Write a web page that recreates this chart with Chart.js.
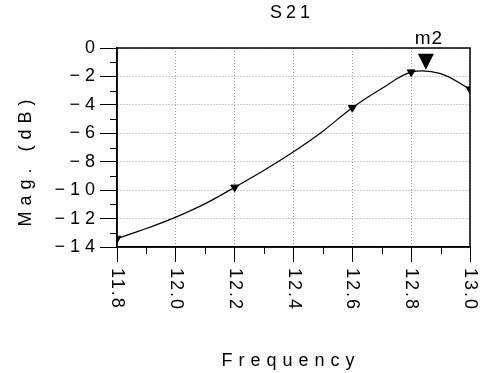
<!DOCTYPE html>
<html>
<head>
<meta charset="utf-8">
<script src="https://cdn.jsdelivr.net/npm/chart.js@4"></script>
<style>
  html, body { margin: 0; padding: 0; background: #fff; }
  #wrap { width: 481px; height: 373px; }
</style>
</head>
<body>
<div id="wrap"><canvas id="c" width="481" height="373"></canvas></div>
<script>
// Data
const freqs = [11.8, 11.9, 12.0, 12.1, 12.2, 12.3, 12.4, 12.5, 12.6, 12.7, 12.8, 12.9, 13.0];
const mags  = [-13.4, -12.7, -11.9, -10.95, -9.8, -8.6, -7.3, -5.85, -4.2, -2.85, -1.7, -1.8, -2.9];
const markerFreqs = [11.8, 12.2, 12.6, 12.8, 13.0];
const markerMags  = [-13.4, -9.8, -4.2, -1.7, -2.9];
const m2Freq = 12.85;
const m2Mag = -1.6;
const m2Label = "m2";
const xTickLabels = ["11.8", "12.0", "12.2", "12.4", "12.6", "12.8", "13.0"];
const xTickValues = [11.8, 12.0, 12.2, 12.4, 12.6, 12.8, 13.0];
const titleText = "S21";
const xTitle = "Frequency";
const yTitle = "Mag. (dB)";

const FONT = "'Liberation Sans', Arial, sans-serif";

const decor = {
  id: 'decor',
  beforeDraw(chart) {
    chart.ctx.letterSpacing = '5px';
  },
  afterDraw(chart) {
    const ctx = chart.ctx;
    const a = chart.chartArea;
    const xs = chart.scales.x, ys = chart.scales.y;
    ctx.save();
    ctx.strokeStyle = '#000';
    ctx.fillStyle = '#000';
    // frame
    ctx.lineWidth = 1.5;
    ctx.strokeRect(a.left, a.top, a.right - a.left, a.bottom - a.top);
    // minor ticks
    ctx.lineWidth = 1;
    ctx.beginPath();
    for (let v = -13; v < 0; v += 2) {
      const py = Math.round(ys.getPixelForValue(v)) + 0.5;
      ctx.moveTo(a.left - 7, py); ctx.lineTo(a.left, py);
    }
    for (let i = 0; i < xTickValues.length - 1; i++) {
      const v = (xTickValues[i] + xTickValues[i + 1]) / 2;
      const px = Math.round(xs.getPixelForValue(v)) + 0.5;
      ctx.moveTo(px, a.bottom); ctx.lineTo(px, a.bottom + 7);
    }
    ctx.stroke();
    // x tick labels rotated clockwise
    ctx.font = '18px ' + FONT;
    ctx.letterSpacing = '2px';
    ctx.textAlign = 'left';
    ctx.textBaseline = 'middle';
    xTickValues.forEach((v, i) => {
      const px = xs.getPixelForValue(v);
      ctx.save();
      ctx.translate(px, a.bottom + 21);
      ctx.rotate(Math.PI / 2);
      ctx.fillText(xTickLabels[i], 0, 0);
      ctx.restore();
    });
    // x title
    ctx.letterSpacing = '6px';
    ctx.textAlign = 'center';
    ctx.textBaseline = 'alphabetic';
    ctx.font = '18px ' + FONT;
    ctx.fillText(xTitle, 291, 366);
    // y title
    ctx.save();
    ctx.translate(26, 160);
    ctx.rotate(-Math.PI / 2);
    ctx.textBaseline = 'middle';
    ctx.letterSpacing = '6px';
    ctx.fillText(yTitle, 0, 0);
    ctx.restore();
    // title
    ctx.letterSpacing = '4px';
    ctx.font = '18px ' + FONT;
    ctx.textBaseline = 'middle';
    ctx.fillText(titleText, 292, 13);
    // m2 marker
    const mx = xs.getPixelForValue(m2Freq);
    const my = ys.getPixelForValue(m2Mag);
    ctx.beginPath();
    ctx.moveTo(mx, my - 1);
    ctx.lineTo(mx - 8, my - 17);
    ctx.lineTo(mx + 8, my - 17);
    ctx.closePath();
    ctx.fill();
    ctx.letterSpacing = '1px';
    ctx.font = '19px ' + FONT;
    ctx.textBaseline = 'alphabetic';
    ctx.fillText(m2Label, mx + 3, my - 27);
    ctx.restore();
  }
};

new Chart(document.getElementById('c'), {
  type: 'scatter',
  data: {
    datasets: [
      {
        data: freqs.map((f, i) => ({ x: f, y: mags[i] })),
        showLine: true,
        borderColor: '#000',
        borderWidth: 1.2,
        pointRadius: 0,
        tension: 0.35
      },
      {
        data: markerFreqs.map((f, i) => ({ x: f, y: markerMags[i] })),
        showLine: false,
        pointStyle: 'triangle',
        rotation: 180,
        pointRadius: 4.5,
        backgroundColor: '#000',
        borderColor: '#000',
        borderWidth: 1
      }
    ]
  },
  options: {
    responsive: false,
    animation: false,
    devicePixelRatio: 1,
    layout: { padding: { left: 0, right: 11, top: 48, bottom: 0 } },
    plugins: { legend: { display: false }, title: { display: false }, tooltip: { enabled: false } },
    scales: {
      x: {
        type: 'linear',
        min: 11.8, max: 13.0,
        afterBuildTicks(scale) { scale.ticks = xTickValues.map(v => ({ value: v })); },
        afterFit(scale) { scale.height = 126; },
        ticks: { display: false },
        grid: {
          color: '#9a9a9a', lineWidth: 1,
          tickLength: 15, tickColor: '#000', tickBorderDash: [], tickWidth: 1
        },
        border: { display: true, color: '#000', width: 1.5, dash: [1, 2] }
      },
      y: {
        min: -14, max: 0,
        ticks: {
          stepSize: 2, color: '#000', padding: 0,
          font: { family: FONT, size: 18 },
          callback: v => (v < 0 ? '\u2212' + Math.abs(v) : String(v))
        },
        afterFit(scale) { scale.width = 117; },
        grid: {
          color: '#9a9a9a', lineWidth: 1,
          tickLength: 17, tickColor: '#000', tickBorderDash: [], tickWidth: 1
        },
        border: { display: true, color: '#000', width: 1.5, dash: [1, 2] }
      }
    }
  },
  plugins: [decor]
});
</script>
</body>
</html>
